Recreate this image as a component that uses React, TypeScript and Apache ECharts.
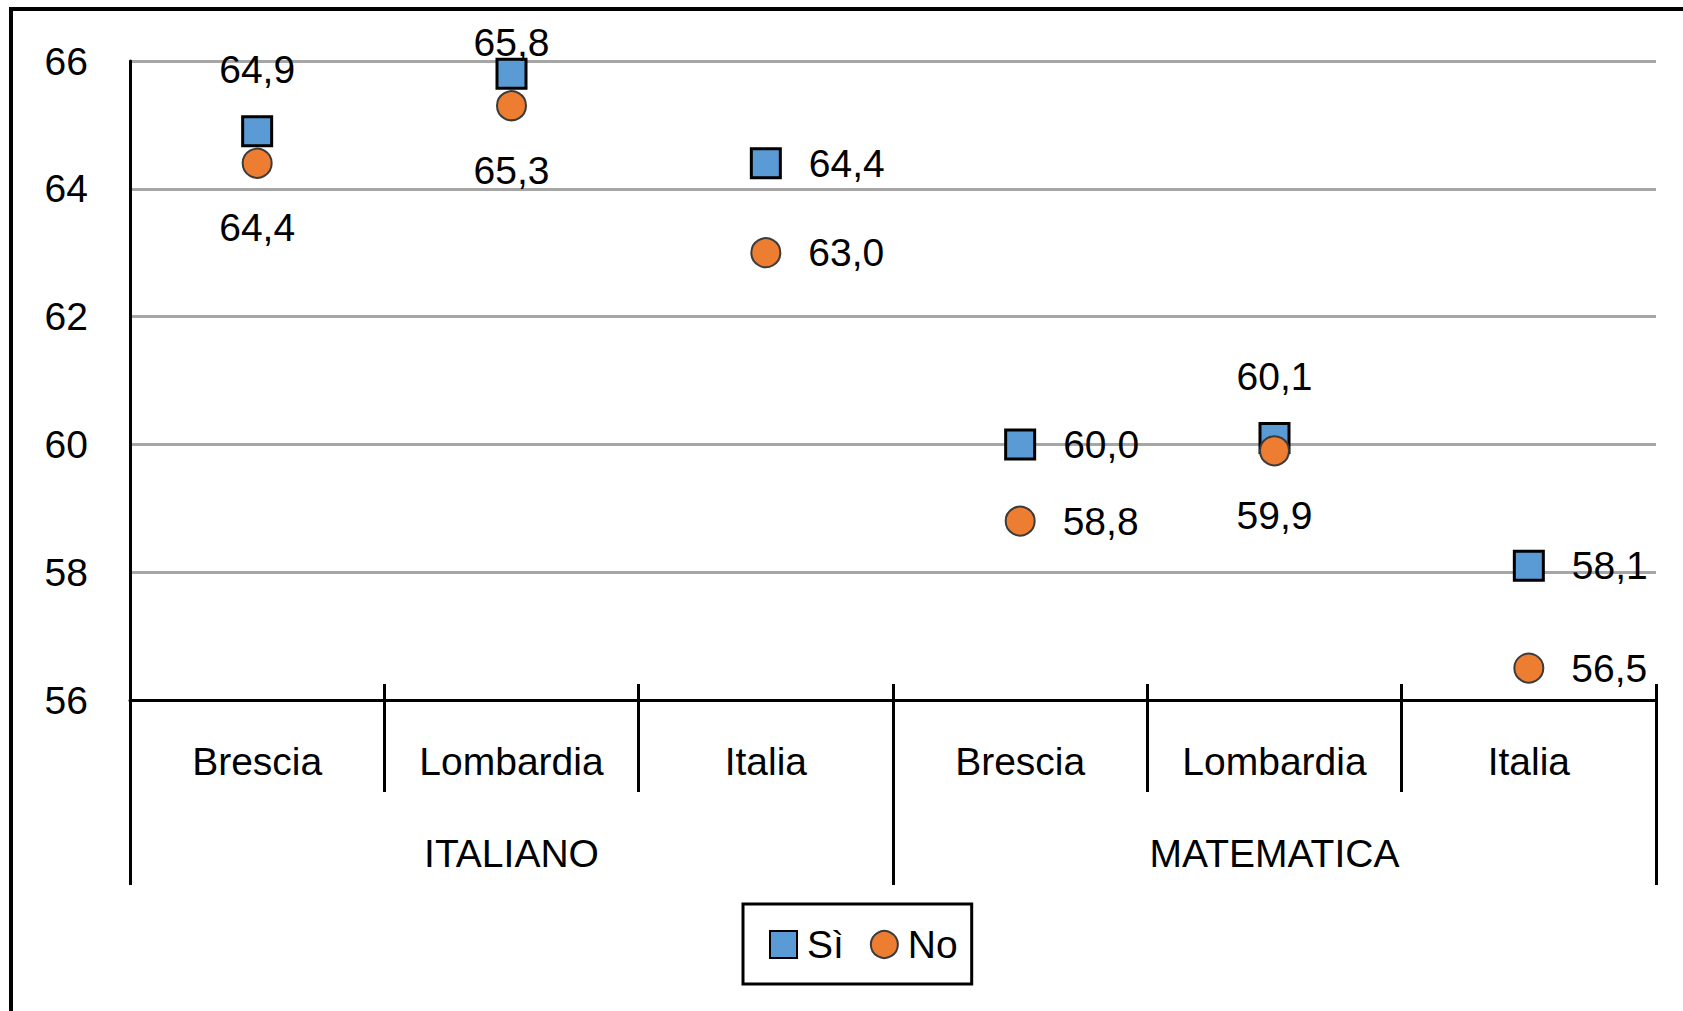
import React, { useEffect, useRef } from "react";
import * as echarts from "echarts";

const categories = ["Brescia", "Lombardia", "Italia", "Brescia", "Lombardia", "Italia"];
const subjects = ["ITALIANO", "MATEMATICA"];
const siValues = [64.9, 65.8, 64.4, 60.0, 60.1, 58.1];
const noValues = [64.4, 65.3, 63.0, 58.8, 59.9, 56.5];
const siLabelSide = ["top", "top", "right", "right", "top", "right"];
const noLabelSide = ["bottom", "bottom", "right", "right", "bottom", "right"];
const yMin = 56;
const yMax = 66;
const yStep = 2;

const FONT = "'Liberation Sans', Arial, sans-serif";
const FS = 39;

function fmt(v: number) {
  return v.toFixed(1).replace(".", ",");
}

function labelFor(side: string, isSquare: boolean, idx: number) {
  const base: any = {
    show: true,
    position: side,
    color: "#000",
    fontFamily: FONT,
    fontSize: FS,
    lineHeight: 40,
    formatter: (p: any) => fmt(p.value[1]),
  };
  if (side === "right") base.distance = 27;
  if (side === "top") base.distance = 26;
  if (side === "bottom") base.distance = 29;
  // label pushed down to stay inside the chart area
  if (isSquare && idx === 1) base.offset = [0, 31];
  return base;
}

export default function App() {
  const ref = useRef<HTMLDivElement>(null);

  useEffect(() => {
    if (!ref.current) return;
    const chart = echarts.init(ref.current, null, { renderer: "svg" });
    const option: any = {
      animation: false,
      backgroundColor: "#fff",
      textStyle: { fontFamily: FONT },
      grid: { left: 130, right: 27, top: 61, bottom: 311, containLabel: false },
      xAxis: [
        {
          type: "category",
          data: categories,
          position: "bottom",
          boundaryGap: true,
          axisLine: { show: true, onZero: false, lineStyle: { color: "#000", width: 3 } },
          axisTick: { show: true, interval: 0, length: 92, lineStyle: { color: "#000", width: 3 } },
          axisLabel: {
            interval: 0,
            margin: 41,
            color: "#000",
            fontFamily: FONT,
            fontSize: FS,
            lineHeight: 40,
          },
          splitLine: { show: false },
        },
        {
          type: "category",
          data: subjects,
          position: "bottom",
          boundaryGap: true,
          axisLine: { show: false, onZero: false },
          axisTick: { show: true, interval: 0, length: 185, lineStyle: { color: "#000", width: 3 } },
          axisLabel: {
            interval: 0,
            margin: 133,
            color: "#000",
            fontFamily: FONT,
            fontSize: FS,
            lineHeight: 40,
          },
          splitLine: { show: false },
        },
        {
          type: "category",
          data: categories,
          position: "bottom",
          boundaryGap: true,
          axisLine: { show: false, onZero: false },
          axisTick: { show: true, inside: true, interval: 0, length: 16, lineStyle: { color: "#000", width: 3 } },
          axisLabel: { show: false },
          splitLine: { show: false },
        },
      ],
      yAxis: {
        type: "value",
        min: yMin,
        max: yMax,
        interval: yStep,
        axisLine: { show: true, lineStyle: { color: "#000", width: 3 } },
        axisTick: { show: false },
        axisLabel: {
          margin: 42,
          color: "#000",
          fontFamily: FONT,
          fontSize: FS,
          lineHeight: 40,
          padding: [5, 0, 0, 0],
        },
        splitLine: { show: true, lineStyle: { color: "#a6a6a6", width: 3 } },
      },
      legend: {
        show: true,
        left: 743,
        top: 904,
        orient: "horizontal",
        padding: [21, 14, 20, 26],
        itemGap: 26,
        itemWidth: 27,
        itemHeight: 27,
        borderColor: "#000",
        borderWidth: 3,
        textStyle: { color: "#000", fontFamily: FONT, fontSize: FS, padding: [0, 0, 0, 5] },
        data: [
          { name: "Sì", icon: "rect" },
          { name: "No", icon: "circle" },
        ],
      },
      graphic: [
        { type: "line", shape: { x1: 9, y1: 9, x2: 1683, y2: 9 }, style: { stroke: "#000", lineWidth: 4 } },
        { type: "line", shape: { x1: 11, y1: 7, x2: 11, y2: 1011 }, style: { stroke: "#000", lineWidth: 4 } },
      ],
      series: [
        {
          name: "Sì",
          type: "scatter",
          xAxisIndex: 0,
          symbol: "rect",
          symbolSize: 29,
          itemStyle: { color: "#5b9bd5", borderColor: "#000", borderWidth: 3, opacity: 1 },
          data: siValues.map((v, i) => ({ value: [i, v], label: labelFor(siLabelSide[i], true, i) })),
          z: 3,
        },
        {
          name: "No",
          type: "scatter",
          xAxisIndex: 0,
          symbol: "circle",
          symbolSize: 29,
          itemStyle: { color: "#ed7d31", borderColor: "#3b3b3b", borderWidth: 2, opacity: 1 },
          data: noValues.map((v, i) => ({ value: [i, v], label: labelFor(noLabelSide[i], false, i) })),
          z: 4,
        },
      ],
    };
    chart.setOption(option);
    return () => chart.dispose();
  }, []);

  return (
    <div
      ref={ref}
      style={{ position: "fixed", left: 0, top: 0, width: 1683, height: 1011, background: "#fff" }}
    />
  );
}
